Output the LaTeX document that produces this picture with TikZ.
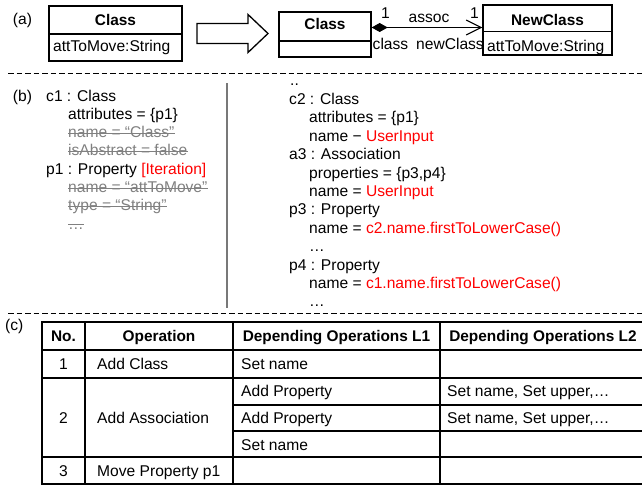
\documentclass[tikz,border=0pt]{standalone}
\usepackage{fontspec}
\setmainfont{Liberation Sans}
\usetikzlibrary{arrows.meta}
\definecolor{redtxt}{RGB}{255,0,0}
\definecolor{greytxt}{RGB}{128,128,128}
\definecolor{greyline}{RGB}{120,120,120}
\newcommand{\strikeit}[1]{\draw[strikeline] ([yshift=4.4pt]#1.base west) -- ([yshift=4.4pt]#1.base east);}
\begin{document}
\begin{tikzpicture}[x=1pt,y=-1pt,
  every node/.style={font=\fontsize{15.6}{18}\selectfont, inner sep=0pt},
  txt/.style={anchor=base west},
  gtxt/.style={anchor=base west, text=greytxt},
  strikeline/.style={line width=0.9pt, draw=greytxt},
  ctr/.style={anchor=base},
  bld/.style={anchor=base, font=\fontsize{15.4}{18}\selectfont\bfseries},
  umlbox/.style={draw, line width=1.3pt, rectangle},
  umlline/.style={line width=1.3pt},
  dashline/.style={line width=0.9pt, dash pattern=on 5.5pt off 3pt},
  greyrule/.style={line width=1.6pt, draw=greyline},
  tbl/.style={line width=2pt}]
\useasboundingbox (0,0) rectangle (642,487);
\clip (0,0) rectangle (642,487);

% (a)
\node[txt] (la) at (12.7,25) {(a)};
\node[umlbox, minimum width=133pt, minimum height=55pt] (cA) at (115.5,33.5) {};
\draw[umlline] (cA.west |- 0,34) -- (cA.east |- 0,34);
\node[bld] (cAn) at (115.5,26) {Class};
\node[txt] (cAa) at (53,52) {attToMove:String};

\draw[umlline] (197,23.5) -- (248,23.5) -- (248,14.5) -- (268,33.5) -- (248,52.5) -- (248,43.5) -- (197,43.5) -- cycle;

\node[umlbox, minimum width=92pt, minimum height=45pt] (cB) at (325,34.5) {};
\draw[umlline] (cB.west |- 0,41) -- (cB.east |- 0,41);
\node[bld] (cBn) at (325,30) {Class};

\node[umlbox, minimum width=129pt, minimum height=50pt] (cN) at (547.5,30) {};
\draw[umlline] (cN.west |- 0,31.5) -- (cN.east |- 0,31.5);
\node[bld] (cNn) at (547.5,26) {NewClass};
\node[txt] (cNa) at (487,51.5) {attToMove:String};

\draw[line width=1.1pt, {Diamond[length=16pt,width=9pt]}-{Straight Barb[length=15pt,width=15pt]}]
  ([yshift=7pt]cB.east) -- ([yshift=2.5pt]cN.west);
\node[ctr] (m1) at (385.5,18.5) {1};
\node[ctr] (asc) at (429,22.5) {assoc};
\node[ctr] (m2) at (474.5,18.5) {1};
\node[ctr] (rcl) at (390.5,49) {class};
\node[anchor=base east] (rnc) at (484,49) {newClass};

\draw[dashline] (8,73) -- (642,73);

% (b)
\node[txt] (lb) at (12.7,101) {(b)};
\node[txt] (c1) at (46,101) {c1 : Class};
\node[txt] (c1a) at (68,119.3) {attributes = \{p1\}};
\node[gtxt] (c1n) at (68,137.6) {name = “Class”};
\node[gtxt] (c1i) at (68,155.9) {isAbstract = false};
\node[txt] (p1) at (46,174.2) {p1 : Property \textcolor{redtxt}{[Iteration]}};
\node[gtxt] (p1n) at (68,192.5) {name = “attToMove”};
\node[gtxt] (p1t) at (68,210.8) {type = “String”};
\node[gtxt] (p1d) at (68,229) {…};
\strikeit{c1n}
\strikeit{c1i}
\strikeit{p1n}
\strikeit{p1t}
\strikeit{p1d}

\draw[greyrule] (227,83) -- (227,308);

\node[txt] (dd) at (290,85) {..};
\node[txt] (c2) at (289,104.5) {c2 : Class};
\node[txt] (c2a) at (309,122.9) {attributes = \{p1\}};
\node[txt] (c2n) at (309,141.3) {name − \textcolor{redtxt}{UserInput}};
\node[txt] (a3) at (289,159.7) {a3 : Association};
\node[txt] (a3p) at (309,178.1) {properties = \{p3,p4\}};
\node[txt] (a3n) at (309,196.5) {name = \textcolor{redtxt}{UserInput}};
\node[txt] (p3) at (289,214.9) {p3 : Property};
\node[txt] (p3n) at (309,233.3) {name = \textcolor{redtxt}{c2.name.firstToLowerCase()}};
\node[txt] (p3d) at (309,251.7) {…};
\node[txt] (p4) at (289,270.1) {p4 : Property};
\node[txt] (p4n) at (309,288.5) {name = \textcolor{redtxt}{c1.name.firstToLowerCase()}};
\node[txt] (p4d) at (309,306.9) {…};

\draw[dashline] (8,313) -- (642,313);

% (c)
\node[txt] (lc) at (5,330) {(c)};
\draw[tbl] (42,322) rectangle (646,484);
\draw[tbl] (42,350) -- (646,350);
\draw[tbl] (42,378) -- (646,378);
\draw[tbl] (42,457) -- (646,457);
\draw[tbl] (233,405) -- (646,405);
\draw[tbl] (233,431) -- (646,431);
\draw[tbl] (85,322) -- (85,484);
\draw[tbl] (233,322) -- (233,484);
\draw[tbl] (440,322) -- (440,484);

\node[bld] (h1) at (63.5,341.5) {No.};
\node[bld] (h2) at (159,341.5) {Operation};
\node[bld] (h3) at (336.5,341.5) {Depending Operations L1};
\node[bld] (h4) at (543,341.5) {Depending Operations L2};

\node[ctr] (r1a) at (63.5,369.5) {1};
\node[txt] (r1b) at (97,369.5) {Add Class};
\node[txt] (r1c) at (241,369.5) {Set name};

\node[ctr] (r2a) at (63.5,423.5) {2};
\node[txt] (r2b) at (97,423.5) {Add Association};
\node[txt] (r2c) at (241,396.5) {Add Property};
\node[txt] (r2d) at (447,396.5) {Set name, Set upper,…};
\node[txt] (r2e) at (241,423.5) {Add Property};
\node[txt] (r2f) at (447,423.5) {Set name, Set upper,…};
\node[txt] (r2g) at (241,450) {Set name};

\node[ctr] (r3a) at (63.5,476) {3};
\node[txt] (r3b) at (97,476) {Move Property p1};
\end{tikzpicture}
\end{document}
